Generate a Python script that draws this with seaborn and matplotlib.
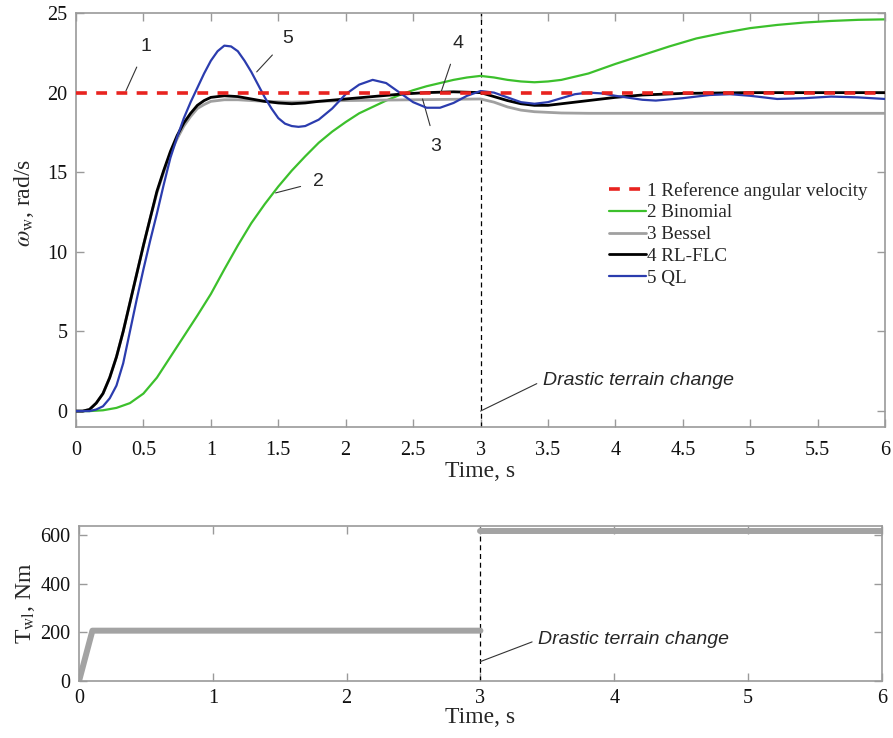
import pandas as pd
import matplotlib
matplotlib.use("Agg")
import matplotlib.pyplot as plt
import seaborn as sns

# ---- data ----
t_ref = [0.0, 6.0]
w_ref = [20.0, 20.0]

t_binom = [0.0, 0.1, 0.2, 0.3, 0.4, 0.5, 0.6, 0.7, 0.8, 0.9, 1.0, 1.1, 1.2, 1.3, 1.4,
           1.5, 1.6, 1.7, 1.8, 1.9, 2.0, 2.1, 2.2, 2.3, 2.4, 2.5, 2.6, 2.7, 2.8, 2.9,
           3.0, 3.1, 3.2, 3.3, 3.4, 3.5, 3.6, 3.8, 4.0, 4.2, 4.4, 4.6, 4.8, 5.0, 5.2,
           5.4, 5.6, 5.8, 6.0]
w_binom = [0.0, 0.0, 0.05, 0.2, 0.5, 1.1, 2.1, 3.4, 4.7, 6.0, 7.35, 8.9, 10.4, 11.8, 13.0,
           14.1, 15.1, 16.0, 16.85, 17.55, 18.15, 18.7, 19.1, 19.5, 19.85, 20.15, 20.4, 20.6, 20.8, 20.95,
           21.05, 20.95, 20.8, 20.7, 20.65, 20.7, 20.8, 21.2, 21.8, 22.35, 22.9, 23.4, 23.75, 24.05, 24.25,
           24.4, 24.5, 24.57, 24.6]

t_bessel = [0.0, 0.05, 0.1, 0.15, 0.2, 0.25, 0.3, 0.35, 0.4, 0.45, 0.5, 0.55, 0.6, 0.65, 0.7,
            0.75, 0.8, 0.85, 0.9, 0.95, 1.0, 1.1, 1.2, 1.4, 1.6, 1.8, 2.0, 2.5, 3.0, 3.1,
            3.2, 3.3, 3.4, 3.6, 3.8, 4.0, 5.0, 6.0]
w_bessel = [0.0, 0.0, 0.1, 0.5, 1.1, 2.1, 3.4, 5.0, 6.8, 8.6, 10.4, 12.1, 13.7, 15.0, 16.2,
            17.1, 17.9, 18.5, 19.0, 19.25, 19.45, 19.55, 19.55, 19.45, 19.4, 19.45, 19.5, 19.55, 19.6, 19.4,
            19.1, 18.9, 18.8, 18.72, 18.7, 18.7, 18.7, 18.7]

t_rlflc = [0.0, 0.05, 0.1, 0.15, 0.2, 0.25, 0.3, 0.35, 0.4, 0.45, 0.5, 0.55, 0.6, 0.65, 0.7,
           0.75, 0.8, 0.85, 0.9, 0.95, 1.0, 1.1, 1.2, 1.3, 1.4, 1.5, 1.6, 1.7, 1.8, 2.0,
           2.2, 2.4, 2.6, 2.8, 3.0, 3.1, 3.2, 3.3, 3.4, 3.5, 3.6, 3.8, 4.0, 4.2, 4.5,
           5.0, 6.0]
w_rlflc = [0.0, 0.0, 0.1, 0.5, 1.1, 2.1, 3.4, 5.0, 6.8, 8.6, 10.4, 12.1, 13.8, 15.1, 16.3,
           17.3, 18.1, 18.7, 19.2, 19.5, 19.7, 19.8, 19.75, 19.6, 19.45, 19.35, 19.3, 19.35, 19.45, 19.6,
           19.75, 19.9, 20.0, 20.05, 20.0, 19.75, 19.5, 19.3, 19.2, 19.2, 19.3, 19.5, 19.7, 19.85, 19.95,
           20.0, 20.0]

t_ql = [0.0, 0.1, 0.15, 0.2, 0.25, 0.3, 0.35, 0.4, 0.45, 0.5, 0.55, 0.6, 0.65, 0.7, 0.75,
        0.8, 0.85, 0.9, 0.95, 1.0, 1.05, 1.1, 1.15, 1.2, 1.25, 1.3, 1.35, 1.4, 1.45, 1.5,
        1.55, 1.6, 1.65, 1.7, 1.8, 1.9, 2.0, 2.1, 2.2, 2.3, 2.4, 2.5, 2.6, 2.7, 2.8,
        2.9, 3.0, 3.1, 3.2, 3.3, 3.4, 3.5, 3.6, 3.7, 3.8, 3.9, 4.0, 4.2, 4.3, 4.5,
        4.7, 4.85, 5.0, 5.2, 5.4, 5.6, 5.8, 6.0]
w_ql = [0.0, 0.0, 0.1, 0.3, 0.8, 1.6, 3.0, 5.0, 7.0, 8.9, 10.7, 12.4, 14.2, 15.9, 17.2,
        18.4, 19.4, 20.3, 21.2, 22.0, 22.6, 22.95, 22.9, 22.6, 22.0, 21.3, 20.5, 19.7, 19.0, 18.4,
        18.05, 17.9, 17.85, 17.9, 18.3, 19.0, 19.9, 20.5, 20.8, 20.6, 20.0, 19.4, 19.05, 19.05, 19.35,
        19.8, 20.1, 20.0, 19.7, 19.4, 19.3, 19.4, 19.65, 19.9, 20.0, 19.95, 19.8, 19.55, 19.5, 19.65,
        19.85, 19.9, 19.8, 19.6, 19.65, 19.75, 19.7, 19.6]

# load torque, drawn as two pieces (no visible jump line at t = 3)
t_torque = [0.0, 0.1, 3.0, 3.0, 6.0]
T_torque = [0.0, 207.0, 207.0, 618.0, 618.0]
seg_torque = [0, 0, 0, 1, 1]

labels = ["1 Reference angular velocity", "2 Binomial", "3 Bessel", "4 RL-FLC", "5 QL"]
colors = ["#e8231f", "#3cc02c", "#a0a0a0", "#000000", "#2b3cae"]

sns.set_style("ticks")
plt.rcParams["font.family"] = ["Liberation Serif", "DejaVu Serif"]
plt.rcParams["mathtext.fontset"] = "stix"
frame_col = "#9a9a9a"

fig = plt.figure(figsize=(8.93, 7.38), dpi=100)
ax = fig.add_axes([0.0851, 0.4214, 0.906, 0.561])
ax2 = fig.add_axes([0.0885, 0.0772, 0.899, 0.210])

series = [
    (t_binom, w_binom, colors[1], 1.6, labels[1], 2),
    (t_bessel, w_bessel, colors[2], 2.0, labels[2], 2),
    (t_rlflc, w_rlflc, colors[3], 2.0, labels[3], 3),
    (t_ql, w_ql, colors[4], 1.6, labels[4], 4),
]
ax.axvline(3.0, color="black", lw=0.9, ls=(0, (4, 3)), zorder=1)
for tt, ww, c, lw, lab, z in series:
    sns.lineplot(x=tt, y=ww, color=c, lw=lw, ax=ax, label=lab, sort=False,
                 estimator=None, zorder=z)
sns.lineplot(x=t_ref, y=w_ref, color=colors[0], lw=2.6, ax=ax, label=labels[0],
             sort=False, estimator=None, zorder=5, linestyle=(0, (3, 2.6)))

ax.set_xlim(0, 6)
ax.set_ylim(-1, 25)
ax.set_xticks([0, 0.5, 1, 1.5, 2, 2.5, 3, 3.5, 4, 4.5, 5, 5.5, 6])
ax.set_xticklabels(["0", "0.5", "1", "1.5", "2", "2.5", "3", "3.5", "4", "4.5", "5", "5.5", "6"])
ax.set_yticks([0, 5, 10, 15, 20, 25])
ax.set_xlabel("Time, s", fontsize=17, labelpad=1)
ax.set_ylabel(r"$\omega_{\mathrm{w}}$, rad/s", fontsize=17)
ax.yaxis.set_label_coords(-0.05, 0.541)

handles, labs = ax.get_legend_handles_labels()
order = [labs.index(l) for l in labels]
ax.legend([handles[i] for i in order], labels, loc="upper left", frameon=False,
          bbox_to_anchor=(0.649, 0.611), fontsize=13.8, handlelength=1.95,
          handletextpad=0.05, labelspacing=0.23, borderaxespad=0)

ann_font = dict(family=["Liberation Sans", "DejaVu Sans"], fontsize=14)
ax.annotate("1", xy=(0.37, 20.1), xytext=(0.52, 22.9), ha="center", va="center",
            arrowprops=dict(arrowstyle="-", lw=0.8, color="#333333", shrinkA=7, shrinkB=0), **ann_font)
ax.annotate("5", xy=(1.34, 21.3), xytext=(1.57, 23.4), ha="center", va="center",
            arrowprops=dict(arrowstyle="-", lw=0.8, color="#333333", shrinkA=7, shrinkB=0), **ann_font)
ax.annotate("2", xy=(1.48, 13.7), xytext=(1.8, 14.4), ha="center", va="center",
            arrowprops=dict(arrowstyle="-", lw=0.8, color="#333333", shrinkA=7, shrinkB=0), **ann_font)
ax.annotate("4", xy=(2.71, 20.1), xytext=(2.83, 23.1), ha="center", va="center",
            arrowprops=dict(arrowstyle="-", lw=0.8, color="#333333", shrinkA=7, shrinkB=0), **ann_font)
ax.annotate("3", xy=(2.57, 19.6), xytext=(2.67, 16.6), ha="center", va="center",
            arrowprops=dict(arrowstyle="-", lw=0.8, color="#333333", shrinkA=7, shrinkB=0), **ann_font)
ax.annotate("Drastic terrain change", xy=(3.0, 0.0), xytext=(3.46, 1.9), ha="left", va="center",
            style="italic", arrowprops=dict(arrowstyle="-", lw=0.8, color="#333333",
                                            shrinkA=2, shrinkB=0, relpos=(0, 0.5)), **ann_font)

# bottom: load torque
df_T = pd.DataFrame({"time": t_torque, "torque": T_torque, "seg": seg_torque})
ax2.axvline(3.0, color="black", lw=0.9, ls=(0, (4, 3)), zorder=1)
sns.lineplot(data=df_T, x="time", y="torque", units="seg", estimator=None, sort=False,
             color="#a3a3a3", lw=4.3, ax=ax2, zorder=2)
ax2.set_xlim(0, 6)
ax2.set_ylim(0, 637)
ax2.set_xticks([0, 1, 2, 3, 4, 5, 6])
ax2.set_yticks([0, 200, 400, 600])
ax2.set_xlabel("Time, s", fontsize=17, labelpad=-1)
ax2.set_ylabel(r"T$_{\mathrm{wl}}$, Nm", fontsize=17)
ax2.yaxis.set_label_coords(-0.052, 0.5)
ax2.annotate("Drastic terrain change", xy=(3.0, 80), xytext=(3.43, 170), ha="left", va="center",
             style="italic", arrowprops=dict(arrowstyle="-", lw=0.8, color="#333333",
                                             shrinkA=2, shrinkB=0, relpos=(0, 0.5)), **ann_font)

for a, xpad in ((ax, 10), (ax2, 6)):
    for s in a.spines.values():
        s.set_color(frame_col)
        s.set_linewidth(1.2)
    a.tick_params(direction="in", top=True, right=True, length=6, width=1.0,
                  color=frame_col, labelsize=14.5, labelcolor="#111111")
    a.tick_params(axis="x", pad=xpad)
    a.tick_params(axis="y", pad=6)

fig.savefig("out.png", dpi=100)
